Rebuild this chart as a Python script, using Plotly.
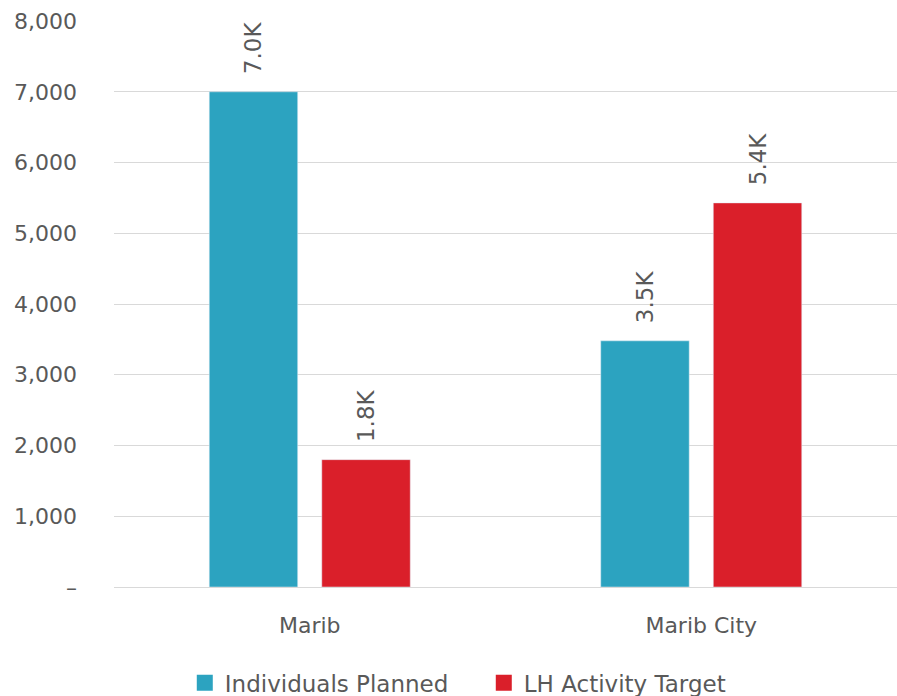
import plotly.graph_objects as go

categories = ["Marib", "Marib City"]
individuals_planned = [7000, 3480]
lh_activity_target = [1800, 5430]
y_tick_vals = [0, 1000, 2000, 3000, 4000, 5000, 6000, 7000, 8000]
y_tick_text = ["–", "1,000", "2,000", "3,000", "4,000", "5,000", "6,000", "7,000", "8,000"]
series_names = ["Individuals Planned", "LH Activity Target"]
series_colors = ["#2ca3c0", "#da1f2a"]

NBSP = "\u00a0"

def fmt_k(v):
    return NBSP * 2 + f"{v/1000:.1f}K"

font_family = "DejaVu Sans"
text_color = "#595959"

fig = go.Figure()
for name, vals, col in zip(series_names, [individuals_planned, lh_activity_target], series_colors):
    fig.add_trace(go.Bar(
        name=name, x=categories, y=vals,
        marker=dict(color=col),
        text=[fmt_k(v) for v in vals],
        textposition="outside", textangle=-90,
        textfont=dict(size=23, color=text_color, family=font_family),
        cliponaxis=False, showlegend=False,
    ))
# legend entries with square swatches
for name, col in zip(series_names, series_colors):
    fig.add_trace(go.Scatter(
        name=name, x=[None], y=[None], mode="markers",
        marker=dict(symbol="square", size=16, color=col),
        showlegend=True,
    ))

fig.update_layout(
    width=897, height=696,
    margin=dict(l=114, r=0, t=21, b=109, autoexpand=False),
    paper_bgcolor="white", plot_bgcolor="white",
    font=dict(family=font_family, color=text_color, size=22),
    barmode="group", bargap=0.425, bargroupgap=0.214,
    uniformtext=dict(minsize=8, mode="show"),
    legend=dict(orientation="h", xref="container", x=0.206, xanchor="left",
                yref="container", y=0.019, yanchor="middle",
                font=dict(size=23, color=text_color), itemwidth=30,
                entrywidth=254, entrywidthmode="pixels",
                traceorder="normal"),
    xaxis=dict(showgrid=False, showline=True, linecolor="#d9d9d9", linewidth=1,
               tickfont=dict(size=22, color=text_color), ticks="",
               ticklabelstandoff=19, automargin=False),
    yaxis=dict(range=[0, 8001], tickvals=y_tick_vals, ticktext=y_tick_text,
               showgrid=True, gridcolor="#d9d9d9", gridwidth=1, zeroline=False,
               tickfont=dict(size=22, color=text_color), ticks="",
               ticklabelstandoff=36, automargin=False),
)

fig.write_html(
    "out.html",
    config={"displayModeBar": False},
    post_script="document.body.style.margin='0px';document.body.style.overflow='hidden';",
)
